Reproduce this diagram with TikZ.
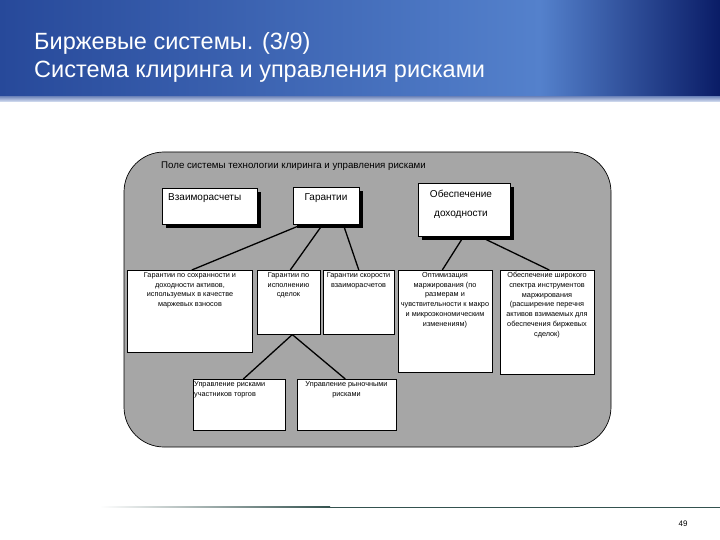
\documentclass[tikz,border=0pt]{standalone}
\usepackage{fontspec}
\setmainfont{Liberation Sans}
\usetikzlibrary{shadows}
\definecolor{hdrA}{HTML}{27499A}
\definecolor{hdrB}{HTML}{5481CC}
\definecolor{hdrC}{HTML}{0A1C66}
\definecolor{fieldgray}{HTML}{A6A6A6}
\definecolor{rulecol}{HTML}{34524F}
\begin{document}
\begin{tikzpicture}[x=1pt,y=-1pt,
  topbox/.style={draw=black, line width=0.8pt, fill=white, inner sep=0pt,
     general shadow={fill=black, shadow xshift=3.5pt, shadow yshift=-3.5pt}},
  subbox/.style={draw=black, line width=0.6pt, fill=white, inner sep=0pt},
  toptext/.style={font=\fontsize{10}{11}\selectfont, inner sep=0pt},
  smalltext/.style={font=\fontsize{7.3}{9.8}\selectfont, inner sep=0pt, align=center},
  conn/.style={line width=1.3pt, black}
]
\useasboundingbox (0,0) rectangle (720,540);
\fill[white] (0,0) rectangle (720,540);
% header
\shade[left color=hdrA, right color=hdrB] (0,0) rectangle (540,101);
\shade[left color=hdrB, right color=hdrC] (540,0) rectangle (720,101);
\shade[top color=hdrA!60!white, bottom color=white!80!hdrB] (0,97) rectangle (720,102);
\node[anchor=base west, inner sep=0pt, text=white, font=\fontsize{23.5}{28}\selectfont] (t1) at (34,50) {Биржевые системы. (3/9)};
\node[anchor=base west, inner sep=0pt, text=white, font=\fontsize{23.5}{28}\selectfont] (t2) at (34,78) {Система клиринга и управления рисками};
% field
\draw[fill=fieldgray, line width=0.7pt, rounded corners=40pt] (124,152) rectangle (611,447);
\node[toptext, font=\fontsize{9.7}{11}\selectfont, anchor=west] (fieldtitle) at (161,166) {Поле системы технологии клиринга и управления рисками};
% top boxes
\node[topbox, anchor=north west, minimum width=95pt, minimum height=36pt] (vz) at (162,188) {};
\node[toptext, anchor=west] (vzt) at (168,198) {Взаиморасчеты};
\node[topbox, anchor=north west, minimum width=66pt, minimum height=37pt] (gar) at (293,187) {};
\node[toptext] (gart) at (326,198) {Гарантии};
\node[topbox, anchor=north west, minimum width=92pt, minimum height=53pt] (obs) at (418,183) {};
\node[toptext] (obst1) at (461,194) {Обеспечение};
\node[toptext] (obst2) at (461,215) {доходности};
% second row
\node[subbox, anchor=north west, minimum width=125pt, minimum height=82pt] (a) at (127,270) {};
\node[smalltext, anchor=north] (at) at (190,272) {Гарантии по сохранности и\\доходности активов,\\используемых в качестве\\маржевых взносов};
\node[subbox, anchor=north west, minimum width=63pt, minimum height=64pt] (b) at (257,270) {};
\node[smalltext, anchor=north] (bt) at (288.5,272) {Гарантии по\\исполнению\\сделок};
\node[subbox, anchor=north west, minimum width=71pt, minimum height=64pt] (c) at (323,270) {};
\node[smalltext, anchor=north] (ct) at (358.5,272) {Гарантии скорости\\взаиморасчетов};
\node[subbox, anchor=north west, minimum width=94pt, minimum height=102pt] (d) at (398,270) {};
\node[smalltext, anchor=north] (dt) at (445,272) {Оптимизация\\маржирования (по\\размерам и\\чувствительности к макро\\и микроэкономическим\\изменениям)};
\node[subbox, anchor=north west, minimum width=94pt, minimum height=104pt] (e) at (500,270) {};
\node[smalltext, anchor=north] (et) at (547,272) {Обеспечение широкого\\спектра инструментов\\маржирования\\(расширение перечня\\активов взимаемых для\\обеспечения биржевых\\сделок)};
% third row
\node[subbox, anchor=north west, minimum width=92pt, minimum height=51pt] (f) at (193,379) {};
\node[smalltext, anchor=north west, align=left] (ft) at (194,381) {Управление рисками\\участников торгов};
\node[subbox, anchor=north west, minimum width=99pt, minimum height=51pt] (g) at (297,379) {};
\node[smalltext, anchor=north] (gt) at (346.5,381) {Управление рыночными\\рисками};
% connectors
\coordinate (g1) at ([xshift=-25pt]gar.south);
\coordinate (g2) at ([xshift=-4pt]gar.south);
\coordinate (g3) at ([xshift=17pt]gar.south);
\draw[conn] (g1) -- ([xshift=2pt]a.north);
\draw[conn] (g2) -- ([xshift=1.5pt]b.north);
\draw[conn] (g3) -- (c.north);
\draw[conn] ([xshift=-1pt]obs.south) -- ([xshift=-3pt]d.north);
\draw[conn] ([xshift=16pt]obs.south) -- ([xshift=2pt]e.north);
\draw[conn] ([xshift=3.5pt]b.south) -- ([xshift=4pt]f.north);
\draw[conn] ([xshift=3.5pt]b.south) -- ([xshift=-1.5pt]g.north);
% bottom rule
\shade[left color=white, right color=rulecol] (100,506.5) rectangle (330,507.8);
\fill[rulecol] (330,506.5) rectangle (720,507.8);
\node[font=\fontsize{8}{9}\selectfont, inner sep=0pt] (pg) at (683,524) {49};
\end{tikzpicture}
\end{document}
